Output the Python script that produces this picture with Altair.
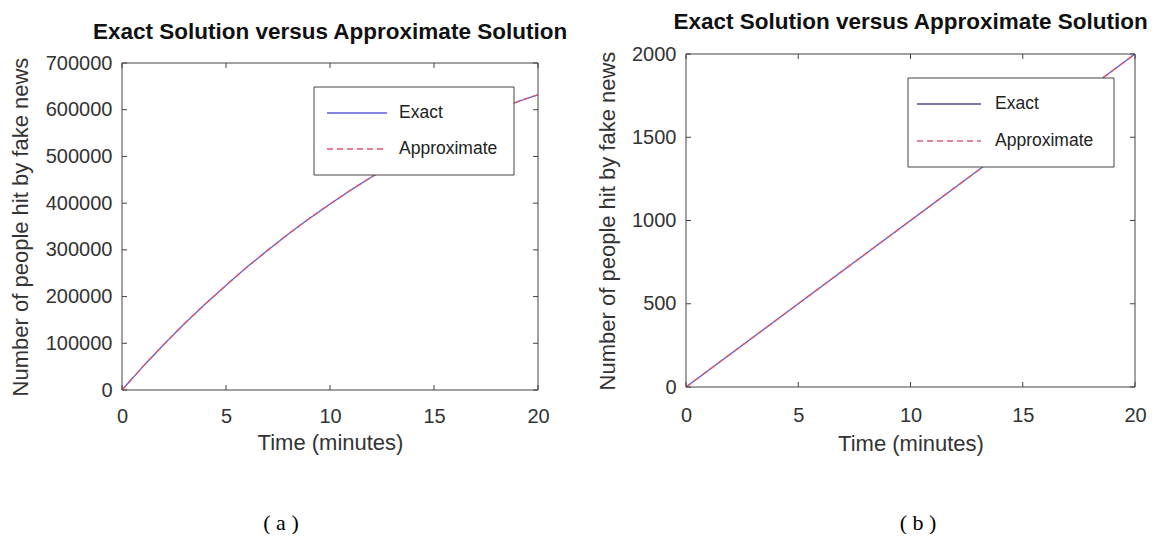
import altair as alt
import pandas as pd

# ---------------- data ----------------
series = ["Exact", "Approximate"]
captions = ["( a )", "( b )"]
chart_title = "Exact Solution versus Approximate Solution"
x_title = "Time (minutes)"
y_title = "Number of people hit by fake news"

time_a = [0, 1, 2, 3, 4, 5, 6, 7, 8, 9, 10, 11, 12, 13, 14, 15, 16, 17, 18, 19, 20]
exact_a = [0, 50000, 97000, 142000, 184000, 224000, 263000, 299000, 334000, 367000,
           398000, 428000, 456000, 483000, 508000, 532000, 555000, 577000, 598000,
           617000, 632000]
approx_a = [0, 50000, 97000, 142000, 184000, 224000, 263000, 299000, 334000, 367000,
            398000, 428000, 456000, 483000, 508000, 532000, 555000, 577000, 598000,
            617000, 632000]

time_b = [0, 5, 10, 15, 20]
exact_b = [0, 500, 1000, 1500, 2000]
approx_b = [0, 500, 1000, 1500, 2000]

x_ticks = [0, 5, 10, 15, 20]
y_ticks_a = [0, 100000, 200000, 300000, 400000, 500000, 600000, 700000]
y_ticks_b = [0, 500, 1000, 1500, 2000]

FONT = "Liberation Sans"
AX = "#444444"
VH = 336  # common view height; each panel's frame sits inside it
one = pd.DataFrame({"k": [0]})


def panel(t, ex, ap, y_ticks, ymax, W, top, bot, colors, leg, cap, cap_x,
          title_offset, y_title_pad, x_lab_pad, x_title_pad):
    df = pd.DataFrame({
        "t": t + t,
        "v": ex + ap,
        "series": [series[0]] * len(t) + [series[1]] * len(t),
    })
    xenc = alt.X("t:Q", scale=alt.Scale(domain=[0, 20], nice=False, zero=False),
                 axis=alt.Axis(values=x_ticks, title=x_title, ticks=False, domain=False,
                               grid=False, labelFlush=False, labelOverlap=False,
                               labelPadding=x_lab_pad, titlePadding=x_title_pad, format="d"))
    yenc = alt.Y("v:Q", scale=alt.Scale(domain=[0, ymax], range=[bot, top], nice=False),
                 axis=alt.Axis(values=y_ticks, title=y_title, ticks=False, domain=False,
                               grid=False, labelOverlap=False, labelPadding=10,
                               titlePadding=y_title_pad, titleY=(top + bot) / 2,
                               format="d"))

    frame = alt.Chart(one).mark_rect(fill="white", fillOpacity=0, stroke=AX, strokeWidth=1).encode(
        x=alt.value(0), x2=alt.value(W), y=alt.value(top), y2=alt.value(bot))

    lines = alt.Chart(df).mark_line(strokeWidth=1.3, clip=True).encode(
        x=xenc, y=yenc,
        color=alt.Color("series:N", scale=alt.Scale(domain=series, range=colors), legend=None),
        strokeDash=alt.StrokeDash("series:N", scale=alt.Scale(domain=series, range=[[1, 0], [6, 4]]),
                                  legend=None),
    )

    xt = pd.DataFrame({"t": x_ticks})
    yt = pd.DataFrame({"v": y_ticks})
    tk = dict(color=AX, strokeWidth=1)
    tb = alt.Chart(xt).mark_rule(**tk).encode(x=xenc, y=alt.value(bot), y2=alt.value(bot - 5))
    tt = alt.Chart(xt).mark_rule(**tk).encode(x=xenc, y=alt.value(top), y2=alt.value(top + 5))
    tl = alt.Chart(yt).mark_rule(**tk).encode(y=yenc, x=alt.value(0), x2=alt.value(5))
    tr = alt.Chart(yt).mark_rule(**tk).encode(y=yenc, x=alt.value(W), x2=alt.value(W - 5))

    lx, ly, lw, lh, l1, l2, r1, r2, tx = leg
    box = alt.Chart(one).mark_rect(fill="white", stroke=AX, strokeWidth=1).encode(
        x=alt.value(lx), x2=alt.value(lx + lw), y=alt.value(ly), y2=alt.value(ly + lh))
    le = alt.Chart(one).mark_rule(color=colors[0], strokeWidth=1.3).encode(
        x=alt.value(l1), x2=alt.value(l2), y=alt.value(r1))
    la = alt.Chart(one).mark_rule(color=colors[1], strokeWidth=1.3, strokeDash=[6, 4]).encode(
        x=alt.value(l1), x2=alt.value(l2), y=alt.value(r2))
    txe = alt.Chart(one).mark_text(text=series[0], font=FONT, fontSize=17.5, align="left",
                                   baseline="middle", color="#222").encode(
        x=alt.value(tx), y=alt.value(r1))
    txa = alt.Chart(one).mark_text(text=series[1], font=FONT, fontSize=17.5, align="left",
                                   baseline="middle", color="#222").encode(
        x=alt.value(tx), y=alt.value(r2))
    capt = alt.Chart(one).mark_text(text=cap, font="Liberation Serif", fontSize=22,
                                    align="center", baseline="middle", color="#000").encode(
        x=alt.value(cap_x), y=alt.value(469))

    return alt.layer(frame, lines, tb, tt, tl, tr, box, le, la, txe, txa, capt).properties(
        width=W, height=VH,
        title=alt.Title(chart_title, font=FONT, fontSize=22.5, fontWeight="bold",
                        color="#111", anchor="middle", offset=title_offset),
    )


pa = panel(time_a, exact_a, approx_a, y_ticks_a, 700000, 416, 9, 336,
           ["#5c5ce0", "#e8506a"],
           (192, 33, 200, 88, 205, 265, 59, 95, 277), captions[0], 159,
           9.5, 13, 16, 6)
pb = panel(time_b, exact_b, approx_b, y_ticks_b, 2000, 449, 0, 333,
           ["#4b4b8f", "#d9607a"],
           (222, 24, 206, 89, 231, 295, 50, 87, 309), captions[1], 232,
           10.5, 12.5, 15, 8)

chart = alt.hconcat(pa, pb, spacing=28).configure(
    padding={"left": 9, "top": 11, "right": 0, "bottom": 0},
).configure_view(stroke="transparent", strokeWidth=0).configure_axis(
    labelFont=FONT, labelFontSize=20, labelColor="#333",
    titleFont=FONT, titleFontSize=22, titleFontWeight="normal", titleColor="#333",
)

chart.save("out.html", embed_options={"renderer": "svg", "actions": False})
